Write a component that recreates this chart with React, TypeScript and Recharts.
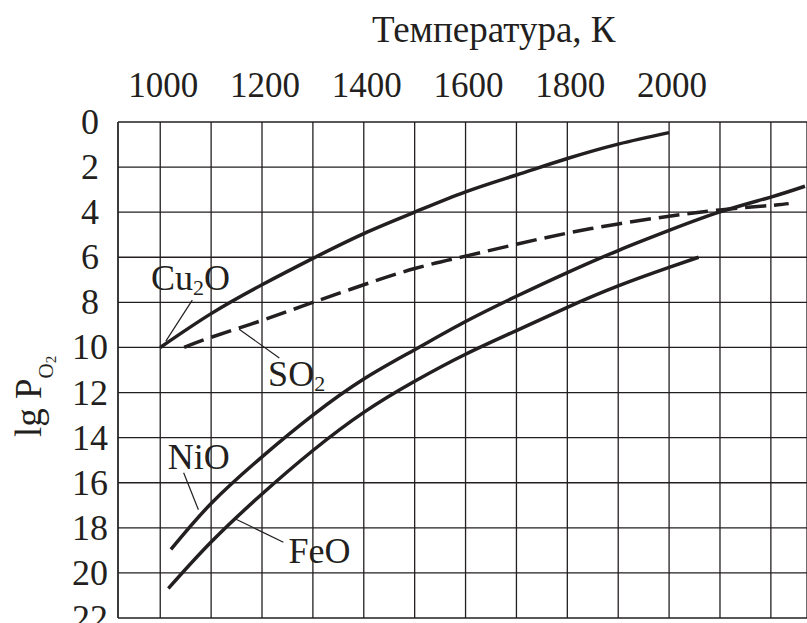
import React from 'react';
import {
  LineChart,
  Line,
  XAxis,
  YAxis,
  CartesianGrid,
  ReferenceLine,
  ReferenceDot,
} from 'recharts';

const ink = '#231f20';
const serif = '"Liberation Serif", "Times New Roman", serif';

// axis ticks
const xTicks = [1000, 1100, 1200, 1300, 1400, 1500, 1600, 1700, 1800, 1900, 2000, 2100, 2200];
const xLabels = [1000, 1200, 1400, 1600, 1800, 2000];
const yTicks = [0, 2, 4, 6, 8, 10, 12, 14, 16, 18, 20, 22];

// Cu2O
const cu2oT = [1000, 1100, 1200, 1300, 1400, 1500, 1600, 1700, 1800, 1900, 2000];
const cu2oV = [10, 8.5, 7.22, 6.05, 4.95, 4.0, 3.1, 2.35, 1.62, 0.98, 0.47];

// SO2 (dashed)
const so2T = [1047, 1100, 1200, 1300, 1400, 1500, 1600, 1700, 1800, 1900, 2000, 2100, 2200, 2235];
const so2V = [10, 9.55, 8.8, 8.0, 7.22, 6.5, 5.95, 5.42, 4.93, 4.52, 4.18, 3.9, 3.7, 3.62];

// NiO
const nioT = [1021, 1100, 1200, 1300, 1400, 1500, 1600, 1700, 1800, 1900, 2000, 2100, 2200, 2267];
const nioV = [18.96, 16.92, 14.85, 13.0, 11.4, 10.1, 8.85, 7.73, 6.68, 5.7, 4.81, 3.99, 3.33, 2.85];

// FeO
const feoT = [1016, 1100, 1200, 1300, 1400, 1500, 1600, 1700, 1800, 1900, 2000, 2058];
const feoV = [20.69, 18.63, 16.5, 14.57, 12.88, 11.5, 10.3, 9.25, 8.22, 7.27, 6.45, 6.0];

const zip = (ts: number[], vs: number[]) => ts.map((t, i) => ({ t, v: vs[i] }));

const cu2o = zip(cu2oT, cu2oV);
const so2 = zip(so2T, so2V);
const nio = zip(nioT, nioV);
const feo = zip(feoT, feoV);

// curve captions, anchored in data units, with leader lines
const notes = [
  { main: 'Cu', sub: '2', tail: 'O', at: { x: 982, y: 7.45 }, lead: [{ x: 1063, y: 7.9 }, { x: 1011, y: 9.72 }] },
  { main: 'SO', sub: '2', tail: '', at: { x: 1212, y: 11.69 }, lead: [{ x: 1155, y: 9.19 }, { x: 1234, y: 10.47 }] },
  { main: 'NiO', sub: '', tail: '', at: { x: 1015, y: 15.39 }, lead: [{ x: 1046, y: 15.56 }, { x: 1075, y: 17.2 }] },
  { main: 'FeO', sub: '', tail: '', at: { x: 1252, y: 19.54 }, lead: [{ x: 1149, y: 17.62 }, { x: 1242, y: 18.64 }] },
];

const XTick = (props: any) => {
  const { x, payload } = props;
  if (!xLabels.includes(payload.value)) return <g />;
  return (
    <text x={x + 3} y={97} textAnchor="middle" fontFamily={serif} fontSize={35} fill={ink}>
      {payload.value}
    </text>
  );
};

const YTick = (props: any) => {
  const { y, payload } = props;
  return (
    <text x={90} y={y + 12} textAnchor="middle" fontFamily={serif} fontSize={36} fill={ink}>
      {payload.value}
    </text>
  );
};

const renderTitle = () => (
  <text x={372} y={42} fontFamily={serif} fontSize={37} fill={ink}>
    Температура, К
  </text>
);

const renderYLabel = () => (
  <text
    x={41}
    y={437}
    transform="rotate(-90 41 437)"
    fontFamily={serif}
    fontSize={37}
    fill={ink}
  >
    lg P
    <tspan fontSize={21} dy={12}>O</tspan>
    <tspan fontSize={15} dy={3}>2</tspan>
  </text>
);

export default function App() {
  return (
    <div style={{ width: 807, height: 623, background: '#fff' }}>
      <style>{'body{margin:0}'}</style>
      <LineChart width={807} height={623} margin={{ top: 62, right: 0, bottom: 5, left: 0 }}>
        <CartesianGrid stroke={ink} strokeWidth={1.3} />
        <XAxis
          xAxisId={0}
          type="number"
          dataKey="t"
          orientation="top"
          domain={[917, 2271]}
          ticks={xTicks}
          interval={0}
          allowDataOverflow
          height={60}
          axisLine={false}
          tickLine={false}
          tick={XTick}
          label={{ content: renderTitle }}
        />
        <YAxis
          yAxisId={0}
          type="number"
          reversed
          domain={[0, 22]}
          ticks={yTicks}
          interval={0}
          width={118}
          axisLine={{ stroke: ink, strokeWidth: 1.3 }}
          tickLine={false}
          tick={YTick}
          label={{ content: renderYLabel }}
        />
        <Line data={cu2o} dataKey="v" type="natural" stroke={ink} strokeWidth={3.5} dot={false} isAnimationActive={false} />
        <Line data={so2} dataKey="v" type="natural" stroke={ink} strokeWidth={3.5} strokeDasharray="21 8" dot={false} isAnimationActive={false} />
        <Line data={nio} dataKey="v" type="natural" stroke={ink} strokeWidth={3.5} dot={false} isAnimationActive={false} />
        <Line data={feo} dataKey="v" type="natural" stroke={ink} strokeWidth={3.5} dot={false} isAnimationActive={false} />
        {notes.map((n) => (
          <ReferenceLine
            key={`lead-${n.main}`}
            segment={n.lead}
            stroke={ink}
            strokeWidth={1.2}
            ifOverflow="visible"
          />
        ))}
        {notes.map((n) => (
          <ReferenceDot
            key={`cap-${n.main}`}
            x={n.at.x}
            y={n.at.y}
            r={0}
            ifOverflow="visible"
            shape={(p: any) => (
              <text x={p.cx} y={p.cy} fontFamily={serif} fontSize={36} fill={ink}>
                {n.main}
                {n.sub && <tspan fontSize={22} dy={5}>{n.sub}</tspan>}
                {n.tail && <tspan dy={-5}>{n.tail}</tspan>}
              </text>
            )}
          />
        ))}
      </LineChart>
    </div>
  );
}
